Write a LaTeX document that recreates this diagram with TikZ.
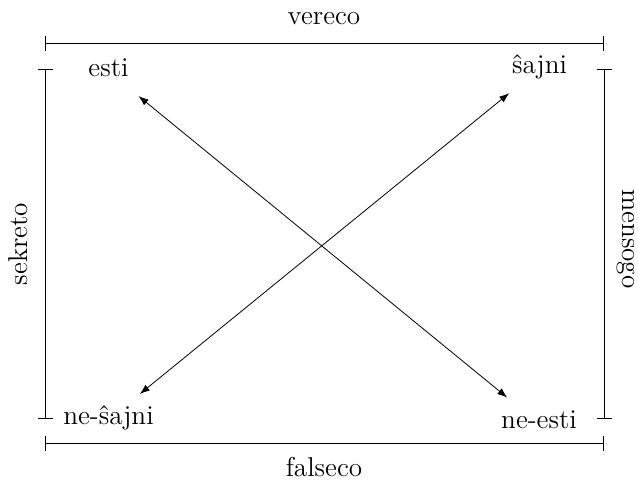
\documentclass[tikz,border=0pt]{standalone}
\usetikzlibrary{arrows.meta}
\tikzset{
  lab/.style={inner sep=0pt, font=\fontsize{13.6pt}{16pt}\selectfont, text height=0.7em, text depth=0.25em},
  brk/.style={line width=0.4pt, {Bar[width=7.5pt]}-{Bar[width=7.5pt]}},
  rel/.style={line width=0.4pt, {Latex[length=5pt,width=3.6pt]}-{Latex[length=5pt,width=3.6pt]}}
}
\begin{document}
\begin{tikzpicture}[x=0.5pt,y=-0.5pt]
\useasboundingbox (0,0) rectangle (638,482);
% corner terms
\node[lab, anchor=base] (esti) at (108.5,76) {esti};
\node[lab, anchor=base] (sajni) at (539.5,73) {ŝajni};
\node[lab, anchor=base] (nesajni) at (108.5,424) {ne-ŝajni};
\node[lab, anchor=base] (neesti) at (539,428) {ne-esti};
% brackets
\coordinate (tl) at (45,43.3);
\coordinate (tr) at (604,43.3);
\coordinate (bl) at (45,443.3);
\coordinate (br) at (604,443.3);
\coordinate (lt) at (45,68.5);
\coordinate (lb) at (45,419);
\coordinate (rt) at (604,68.5);
\coordinate (rb) at (604,419);
\draw[brk] (tl) -- (tr);
\draw[brk] (bl) -- (br);
\draw[brk] (lt) -- (lb);
\draw[brk] (rt) -- (rb);
\node[lab, anchor=base] (vereco) at (324,25) {vereco};
\node[lab, anchor=base] (falseco) at (324,476) {falseco};
\node[lab, anchor=base, rotate=90] (sekreto) at (27,244) {sekreto};
\node[lab, anchor=base, rotate=-90] (mensogo) at (622,239) {mensogo};
% arrows
\draw[rel, shorten <=19.4pt, shorten >=20.5pt] (esti.center) -- (neesti.center);
\draw[rel, shorten <=19.5pt, shorten >=20.2pt] (sajni.center) -- (nesajni.center);
\end{tikzpicture}
\end{document}
